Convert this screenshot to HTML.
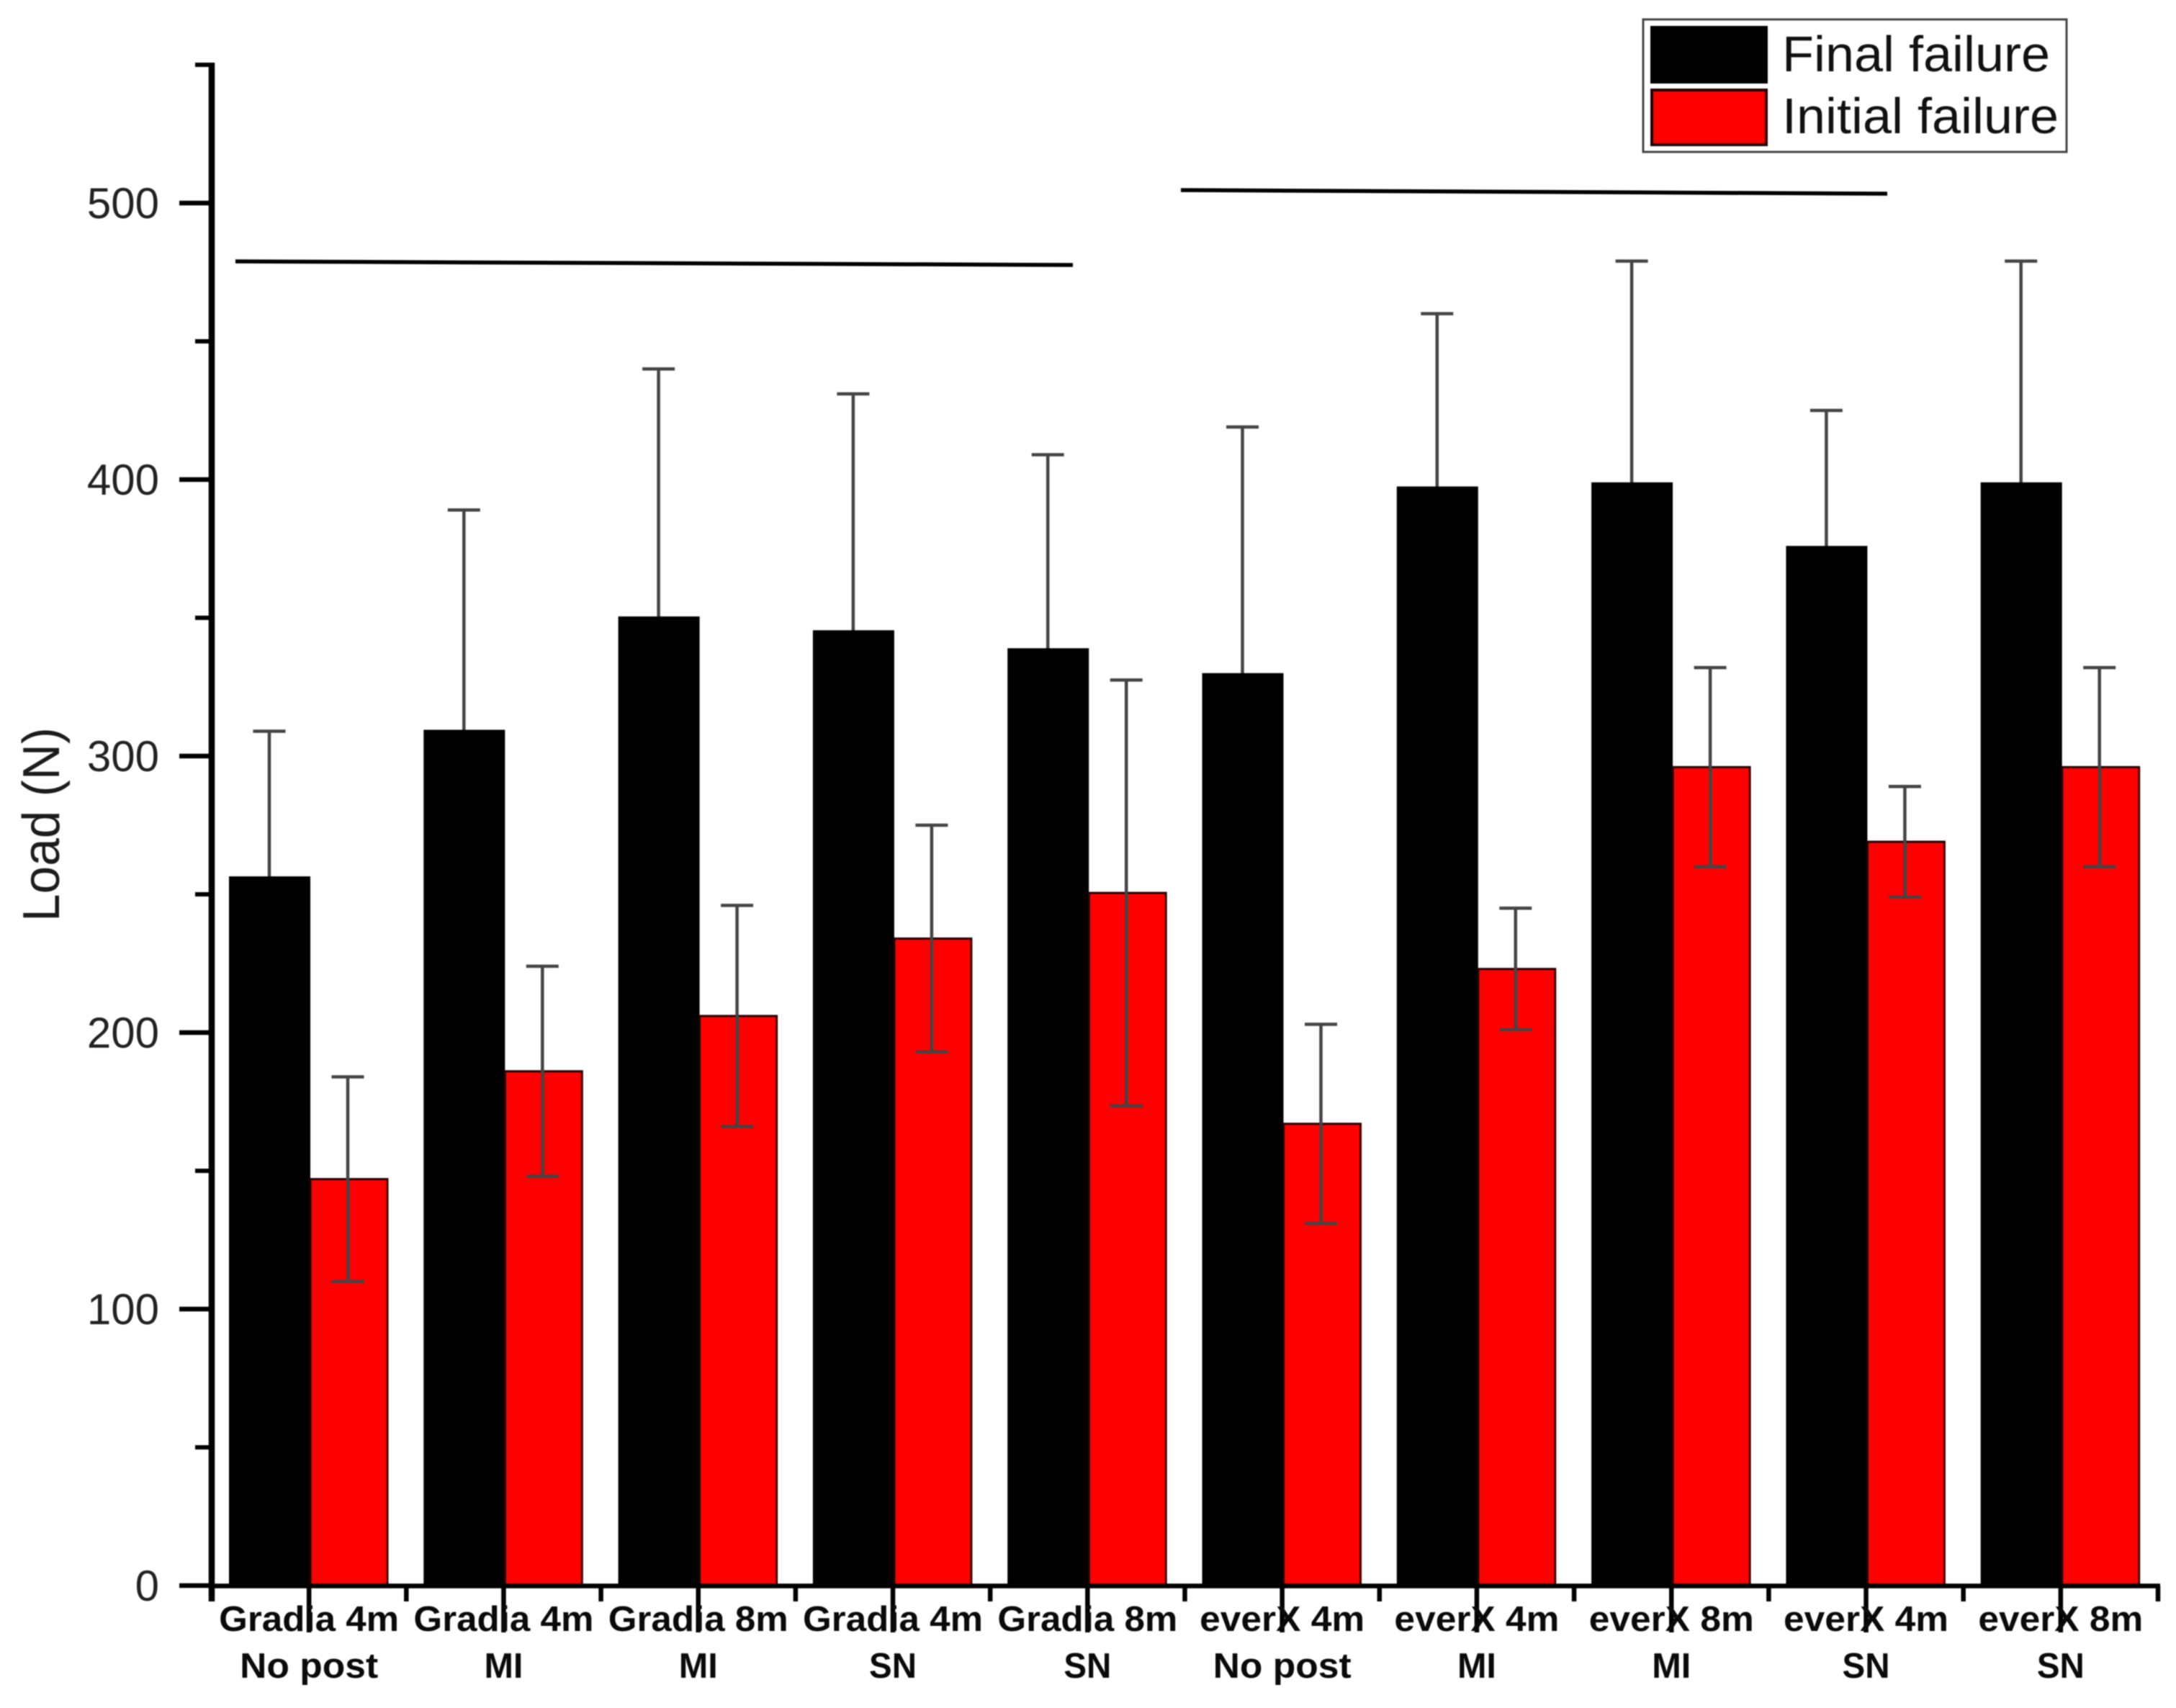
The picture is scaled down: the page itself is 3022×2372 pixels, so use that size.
<!DOCTYPE html>
<html lang="en">
<head>
<meta charset="utf-8">
<title>Load at failure chart</title>
<style>
  html, body { margin: 0; padding: 0; background: #fff; }
  body { width: 3022px; height: 2372px; overflow: hidden; }
  svg { display: block; filter: blur(0.8px); font-family: "Liberation Sans", sans-serif; }
</style>
</head>
<body>
<svg id="chart" xmlns="http://www.w3.org/2000/svg" width="3022" height="2372" viewBox="0 0 3022 2372">
  <rect x="0" y="0" width="3022" height="2372" fill="#ffffff"/>
  <g id="errors-final"></g>
  <g id="bars"></g>
  <g id="errors-initial"></g>
  <g id="axes"></g>
  <text transform="translate(82,1280) rotate(-90)" font-size="72" fill="#1c1c1c" textLength="270" lengthAdjust="spacingAndGlyphs">Load (N)</text>
  <line x1="327" y1="363" x2="1490" y2="368" stroke="#000" stroke-width="5.5"/>
  <line x1="1640" y1="264" x2="2621" y2="269" stroke="#000" stroke-width="5.5"/>
  <g>
    <rect x="2282" y="27" width="588" height="184" fill="#fff" stroke="#444" stroke-width="3"/>
    <rect x="2292" y="36" width="163" height="80" fill="#000"/>
    <rect x="2294" y="125" width="159" height="76" fill="#f00" stroke="#200" stroke-width="4"/>
    <text x="2475" y="99" font-size="70" fill="#111" textLength="372" lengthAdjust="spacingAndGlyphs">Final failure</text>
    <text x="2475" y="185" font-size="70" fill="#111" textLength="384" lengthAdjust="spacingAndGlyphs">Initial failure</text>
  </g>
</svg>
<script>
const categoriesLine1 = ["Gradia 4m", "Gradia 4m", "Gradia 8m", "Gradia 4m", "Gradia 8m", "everX 4m", "everX 4m", "everX 8m", "everX 4m", "everX 8m"];
const categoriesLine2 = ["No post", "MI", "MI", "SN", "SN", "No post", "MI", "MI", "SN", "SN"];
const finalFailure = [256.5, 309.5, 350.5, 345.5, 339, 330, 397.5, 399, 376, 399];
const finalError = [52.5, 79.5, 89.5, 85.5, 70, 89, 62.5, 80, 49, 80];
const initialFailure = [147, 186, 206, 234, 250.5, 167, 223, 296, 269, 296];
const initialError = [37, 38, 40, 41, 77, 36, 22, 36, 20, 36];
const majorYTicks = [0, 100, 200, 300, 400, 500];
const minorYTicks = [50, 150, 250, 350, 450, 550];

const NS = "http://www.w3.org/2000/svg";
const yScale = function (v) { return 2202 - 3.84 * v; };
const xCenter = function (i) { return 431 + 270.3 * i; };
const xTick = function (h) { return 294 + 135.15 * h; };

function make(tag, parent, attrs, text) {
  const el = document.createElementNS(NS, tag);
  for (const k in attrs) el.setAttribute(k, attrs[k]);
  if (text !== undefined) el.textContent = text;
  parent.appendChild(el);
  return el;
}

const barsG = document.getElementById("bars");
const errFinalG = document.getElementById("errors-final");
const errInitialG = document.getElementById("errors-initial");
const axesG = document.getElementById("axes");

function errorBar(group, cx, v, e, label) {
  const top = yScale(v + e);
  const bottom = yScale(v - e);
  const stem = make("line", group, { x1: cx, x2: cx, y1: top, y2: bottom, stroke: "#444", "stroke-width": 4.5 });
  
  
  const capTop = make("line", group, { x1: cx - 22.5, x2: cx + 22.5, y1: top, y2: top, stroke: "#444", "stroke-width": 4.5 });
  
  
  const capBottom = make("line", group, { x1: cx - 22.5, x2: cx + 22.5, y1: bottom, y2: bottom, stroke: "#444", "stroke-width": 4.5 });
  
  
}

categoriesLine1.forEach(function (cat, i) {
  const c = xCenter(i);
  const black = make("rect", barsG, { x: c - 113, y: yScale(finalFailure[i]), width: 113, height: yScale(0) - yScale(finalFailure[i]), fill: "#000" });
  
  
  const red = make("rect", barsG, { x: c, y: yScale(initialFailure[i]), width: 107, height: yScale(0) - yScale(initialFailure[i]), fill: "#ff0000", stroke: "#2a0000", "stroke-width": 3 });
  
  
  errorBar(errFinalG, c - 57, finalFailure[i], finalError[i], 'error-final-' + (i + 1));
  errorBar(errInitialG, c + 52, initialFailure[i], initialError[i], 'error-initial-' + (i + 1));
});

/* Y axis */
const yAxisLine = make("line", axesG, { x1: 294, x2: 294, y1: yScale(550) - 3, y2: 2224, stroke: "#000", "stroke-width": 8.5 });



majorYTicks.forEach(function (t) {
  const tick = make("line", axesG, { x1: 249, x2: 294, y1: yScale(t), y2: yScale(t), stroke: "#000", "stroke-width": 6.5 });
  
  
  const label = make("text", axesG, { x: 221, y: yScale(t) + 21, "text-anchor": "end", "font-size": 60, fill: "#222" }, String(t));
  
  
});
minorYTicks.forEach(function (t) {
  const tick = make("line", axesG, { x1: 271, x2: 294, y1: yScale(t), y2: yScale(t), stroke: "#000", "stroke-width": 6 });
  
  
});

/* X axis */
const xAxisLine = make("line", axesG, { x1: 294, x2: 3000, y1: 2202.5, y2: 2202.5, stroke: "#000", "stroke-width": 6.5 });



for (let h = 1; h <= 20; h += 2) {
  const m = make("line", axesG, { x1: xTick(h), x2: xTick(h), y1: 2202, y2: 2267, stroke: "#000", "stroke-width": 6.5 });
  
  
}
for (let h = 2; h <= 20; h += 2) {
  const m = make("line", axesG, { x1: xTick(h), x2: xTick(h), y1: 2202, y2: 2224, stroke: "#000", "stroke-width": 6.5 });
  
  
}

categoriesLine1.forEach(function (cat, i) {
  const cx = xTick(2 * i + 1);
  const line1 = make("text", axesG, { x: cx, y: 2265, "text-anchor": "middle", "font-size": 49, "font-weight": "bold", fill: "#0a0a0a", textLength: cat.startsWith("Gradia") ? 250 : 229, lengthAdjust: "spacingAndGlyphs" }, cat);
  
  
  const second = categoriesLine2[i];
  const line2 = make("text", axesG, { x: cx, y: 2330, "text-anchor": "middle", "font-size": 49, "font-weight": "bold", fill: "#0a0a0a", textLength: second === "No post" ? 192 : second === "MI" ? 54 : 66, lengthAdjust: "spacingAndGlyphs" }, second);
  
  
});
</script>
</body>
</html>
